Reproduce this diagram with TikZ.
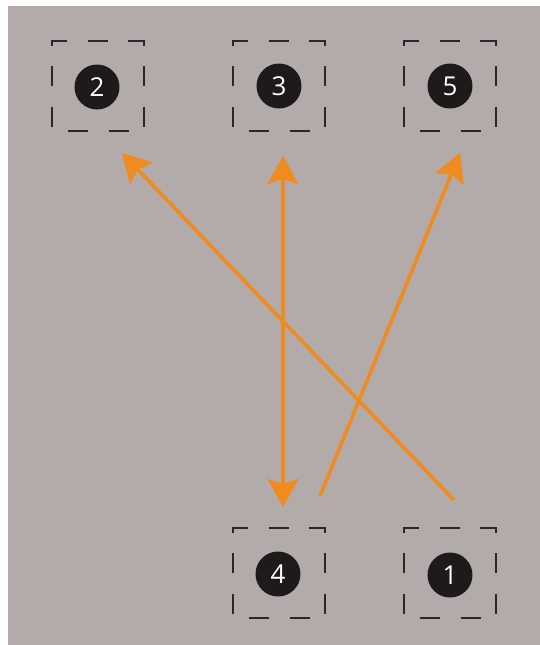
\documentclass[tikz,border=0pt]{standalone}
\usepackage{fontspec}
\setmainfont{Open Sans}
\usetikzlibrary{arrows.meta}
\definecolor{panel}{HTML}{B3ABA9}
\definecolor{ink}{HTML}{1E1A1A}
\definecolor{frameink}{HTML}{2B2727}
\definecolor{flow}{HTML}{EF8B1F}
\begin{document}
\begin{tikzpicture}[x=0.5pt,y=-0.5pt,
  badge/.style={circle,fill=ink,text=white,minimum size=22.5pt,inner sep=0pt,
    font=\fontsize{13}{14}\selectfont},
  frame/.style={draw=frameink,line width=1pt,dash pattern=on 10.15pt off 10.15pt},
  tip/.tip={Stealth[length=14pt,width=15.5pt,inset=2.5pt]},
  flowline/.style={draw=flow,line width=1.8pt,-tip},
  twoway/.style={draw=flow,line width=1.8pt,tip-tip}]
% backdrop
\fill[white] (0,0) rectangle (540,645);
\fill[panel] (8,6) rectangle (540,645);
\useasboundingbox (0,0) rectangle (540,645);
% dashed frames around the numbered badges
\foreach \cx/\cy in {98/86,279/86,450/86,279/573,450/573}{
  \draw[frame] (\cx-46,\cy+41) -- (\cx-46,\cy-45) -- (\cx+46,\cy-45) -- (\cx+46,\cy+41);
  \draw[frame] (\cx-30,\cy+45) -- (\cx+31,\cy+45);
}
% numbered badges
\node[badge] (n2) at (97,87) {2};
\node[badge] (n3) at (279,86) {3};
\node[badge] (n5) at (450,86) {5};
\node[badge] (n4) at (278,574) {4};
\node[badge] (n1) at (450,575) {1};
% arrow end points
\coordinate (p1) at (454,500);
\coordinate (q1) at (122,153);
\coordinate (p2) at (283,156);
\coordinate (q2) at (283,507);
\coordinate (p3) at (320,496);
\coordinate (q3) at (460,153);
% moves
\draw[flowline] (p1) -- (q1);
\draw[twoway] (p2) -- (q2);
\draw[flowline] (p3) -- (q3);
\end{tikzpicture}
\end{document}
